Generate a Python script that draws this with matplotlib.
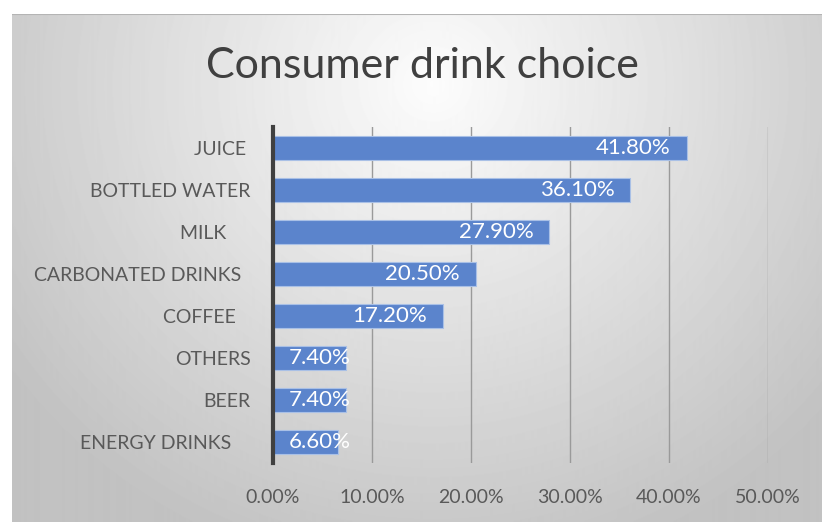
import numpy as np
import matplotlib.pyplot as plt

categories = ["JUICE ", "BOTTLED WATER", "MILK     ", "CARBONATED DRINKS  ",
              "COFFEE   ", "OTHERS", "BEER", "ENERGY DRINKS    "]
shares = [41.8, 36.1, 27.9, 20.5, 17.2, 7.4, 7.4, 6.6]
xticks = [0, 10, 20, 30, 40, 50]

plt.rcParams['font.family'] = ['Lato', 'DejaVu Sans']

W, H = 822, 522
fig = plt.figure(figsize=(W / 100, H / 100), dpi=100)
fig.patch.set_facecolor("white")

# gradient panel behind the chart
bg = fig.add_axes([12 / W, 0, 1 - 12 / W, 1 - 14 / H])
yy, xx = np.mgrid[0:508, 0:810]
r = np.sqrt(((xx - 420) / 540.0) ** 2 + ((yy - 70) / 520.0) ** 2)
shade = np.clip(0.99 - 0.24 * r, 0.76, 1)
bg.imshow(shade, cmap="gray", vmin=0, vmax=1, aspect="auto", extent=[0, 1, 0, 1])
bg.axhline(1, color="#b4b4b4", lw=1.5)
bg.set_axis_off()

ax = fig.add_axes([273 / W, 59 / H, (768 - 273) / W, (463 - 127) / H])
ax.set_facecolor("none")

y = np.arange(len(categories))
ax.barh(y, shares, height=0.55, color="#5b84cc", edgecolor="#a9c0e6", linewidth=0.8, zorder=3)

for yi, v in zip(y, shares):
    if v > 10:
        ax.text(v - 1.6, yi, f"{v:.2f}%", ha="right", va="center", color="white", fontsize=16, zorder=4)
    else:
        ax.text(1.6, yi, f"{v:.2f}%", ha="left", va="center", color="white", fontsize=16, zorder=4)

ax.set_xlim(0, 50)
ax.set_ylim(len(categories) - 0.5, -0.5)
ax.set_xticks(xticks)
ax.set_xticklabels([f"{t:.2f}%" for t in xticks])
ax.set_yticks(y)
ax.set_yticklabels(categories)
ax.tick_params(axis="x", length=0, pad=19, labelsize=14, labelcolor="#595959")
ax.tick_params(axis="y", length=0, pad=16, labelsize=14, labelcolor="#595959")
ax.grid(axis="x", color="#9a9a9a", lw=1, zorder=0)
for s in ["top", "right", "bottom"]:
    ax.spines[s].set_visible(False)
ax.spines["left"].set_color("#404040")
ax.spines["left"].set_linewidth(3)
ax.spines["left"].set_zorder(5)

fig.text(0.514, 1 - 66 / H, "Consumer drink choice", ha="center", va="center",
         fontsize=31, color="#404040")

fig.savefig("out.png", dpi=100)
